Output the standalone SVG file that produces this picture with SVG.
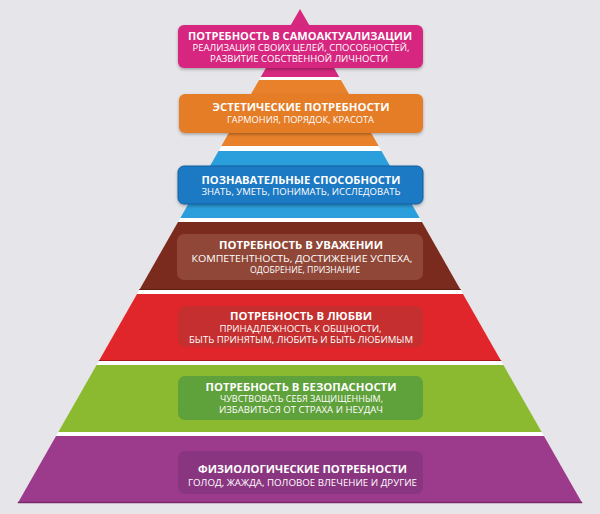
<svg xmlns="http://www.w3.org/2000/svg" width="600" height="514" viewBox="0 0 600 514">
  <defs>
    <filter id="sh" x="-10%" y="-20%" width="120%" height="150%">
      <feDropShadow dx="0" dy="1.5" stdDeviation="1.5" flood-color="#000" flood-opacity="0.3"/>
    </filter>
  </defs>
  <style>
    text { font-family: "Open Sans", "Liberation Sans", sans-serif; fill: #ffffff; text-anchor: middle; }
    .t { font-size: 10.6px; font-weight: 700; }
    .s { font-size: 8.6px; font-weight: 400; }
  </style>
  <rect width="600" height="514" fill="#e6e6ea"/>
  <polygon points="300,9 17.8,503 582.2,503" fill="#ffffff"/>

  <g id="tier-self-actualization">
    <polygon points="300,9 260.7,77 339.3,77" fill="#d6287f"/>
    <rect x="178" y="25" width="245" height="43" rx="6" fill="#d6287f" filter="url(#sh)"/>
    <text class="t" x="300" y="40" textLength="224" lengthAdjust="spacingAndGlyphs">ПОТРЕБНОСТЬ В САМОАКТУАЛИЗАЦИИ</text>
    <text class="s" x="301" y="50.8" textLength="217" lengthAdjust="spacingAndGlyphs">РЕАЛИЗАЦИЯ СВОИХ ЦЕЛЕЙ, СПОСОБНОСТЕЙ,</text>
    <text class="s" x="299" y="62" textLength="178" lengthAdjust="spacingAndGlyphs">РАЗВИТИЕ СОБСТВЕННОЙ ЛИЧНОСТИ</text>
  </g>

  <g id="tier-aesthetic">
    <polygon points="259,80 341,80 378.7,146 221.3,146" fill="#e8812a"/>
    <rect x="179" y="94" width="244" height="39" rx="6" fill="#e57c27" filter="url(#sh)"/>
    <text class="t" x="301" y="110.7" textLength="177" lengthAdjust="spacingAndGlyphs">ЭСТЕТИЧЕСКИЕ ПОТРЕБНОСТИ</text>
    <text class="s" x="300.5" y="123.3" textLength="147" lengthAdjust="spacingAndGlyphs">ГАРМОНИЯ, ПОРЯДОК, КРАСОТА</text>
  </g>

  <g id="tier-cognitive">
    <polygon points="218.5,151 381.5,151 419.7,218 180.3,218" fill="#2b9fdc"/>
    <rect x="178" y="166" width="245" height="38" rx="6" fill="#1b79c3" stroke="#15609e" stroke-width="1" filter="url(#sh)"/>
    <text class="t" x="301" y="183.6" textLength="199" lengthAdjust="spacingAndGlyphs">ПОЗНАВАТЕЛЬНЫЕ СПОСОБНОСТИ</text>
    <text class="s" x="301" y="194.6" textLength="199" lengthAdjust="spacingAndGlyphs">ЗНАТЬ, УМЕТЬ, ПОНИМАТЬ, ИССЛЕДОВАТЬ</text>
  </g>

  <g id="tier-esteem">
    <polygon points="178,222 422,222 460.7,290 139.3,290" fill="#7b2b1e"/>
    <line x1="139.3" y1="289.5" x2="460.7" y2="289.5" stroke="#5e1d13" stroke-width="1.2"/>
    <rect x="177" y="234" width="246" height="46" rx="7" fill="#904738"/>
    <text class="t" x="301" y="249.3" textLength="164" lengthAdjust="spacingAndGlyphs">ПОТРЕБНОСТЬ В УВАЖЕНИИ</text>
    <text class="s" x="302" y="261.7" textLength="221" lengthAdjust="spacingAndGlyphs">КОМПЕТЕНТНОСТЬ, ДОСТИЖЕНИЕ УСПЕХА,</text>
    <text class="s" x="305" y="272.6" textLength="110" lengthAdjust="spacingAndGlyphs">ОДОБРЕНИЕ, ПРИЗНАНИЕ</text>
  </g>

  <g id="tier-love">
    <polygon points="137,294 463,294 501.2,361 98.8,361" fill="#e1262b"/>
    <line x1="98.8" y1="360.5" x2="501.2" y2="360.5" stroke="#a81a1e" stroke-width="1.2"/>
    <rect x="178" y="306" width="245" height="41" rx="7" fill="#c52f2f"/>
    <text class="t" x="301" y="320" textLength="142" lengthAdjust="spacingAndGlyphs">ПОТРЕБНОСТЬ В ЛЮБВИ</text>
    <text class="s" x="300.5" y="332.3" textLength="162" lengthAdjust="spacingAndGlyphs">ПРИНАДЛЕЖНОСТЬ К ОБЩНОСТИ,</text>
    <text class="s" x="301" y="343.2" textLength="224" lengthAdjust="spacingAndGlyphs">БЫТЬ ПРИНЯТЫМ, ЛЮБИТЬ И БЫТЬ ЛЮБИМЫМ</text>
  </g>

  <g id="tier-safety">
    <polygon points="96.5,365 503.5,365 541.7,432 58.3,432" fill="#8bb92f"/>
    <rect x="178" y="376" width="245" height="44" rx="7" fill="#5fa13a"/>
    <text class="t" x="301" y="390.7" textLength="191" lengthAdjust="spacingAndGlyphs">ПОТРЕБНОСТЬ В БЕЗОПАСНОСТИ</text>
    <text class="s" x="301.5" y="402.3" textLength="163" lengthAdjust="spacingAndGlyphs">ЧУВСТВОВАТЬ СЕБЯ ЗАЩИЩЕННЫМ,</text>
    <text class="s" x="301" y="413.2" textLength="164" lengthAdjust="spacingAndGlyphs">ИЗБАВИТЬСЯ ОТ СТРАХА И НЕУДАЧ</text>
  </g>

  <g id="tier-physiological">
    <polygon points="56,436 544,436 582.2,503 17.8,503" fill="#9c3a8b"/>
    <line x1="17.8" y1="502.5" x2="582.2" y2="502.5" stroke="#762a68" stroke-width="1.5"/>
    <rect x="178" y="451" width="245" height="43" rx="7" fill="#8a3580"/>
    <text class="t" x="302.5" y="473" textLength="209" lengthAdjust="spacingAndGlyphs">ФИЗИОЛОГИЧЕСКИЕ ПОТРЕБНОСТИ</text>
    <text class="s" x="302.5" y="485.8" textLength="229" lengthAdjust="spacingAndGlyphs">ГОЛОД, ЖАЖДА, ПОЛОВОЕ ВЛЕЧЕНИЕ И ДРУГИЕ</text>
  </g>
</svg>
